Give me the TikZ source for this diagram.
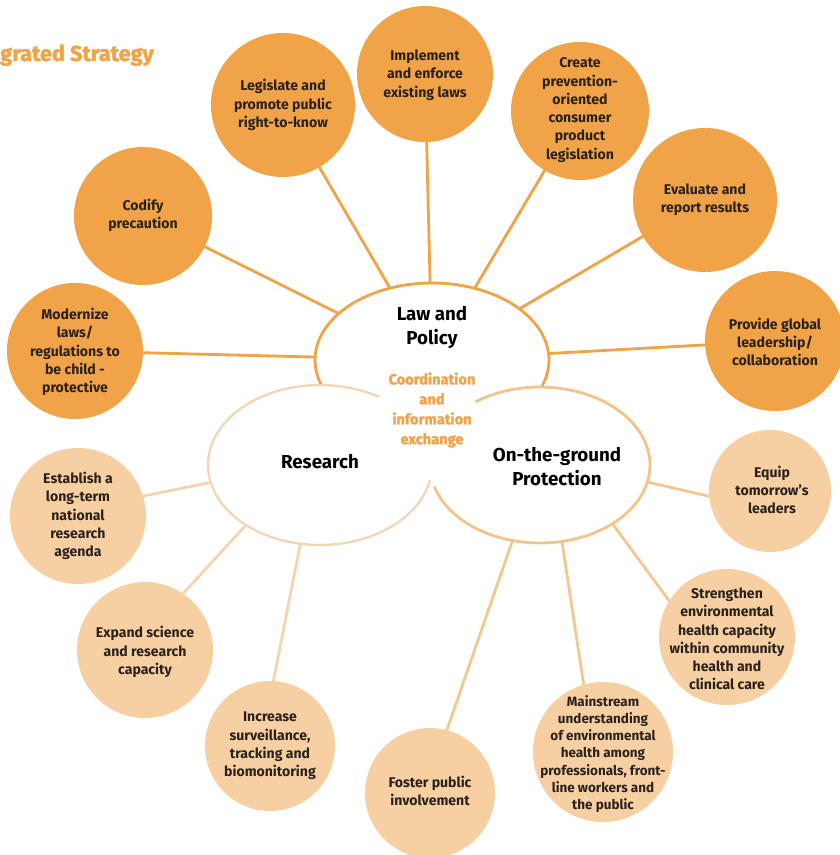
\documentclass[tikz,border=0pt]{standalone}
\usepackage{fontspec}
\setmainfont{Fira Sans}
\newfontfamily\heavyfont{Fira Sans}[BoldFeatures={FakeBold=1.6}]
\usetikzlibrary{shapes.geometric}

\definecolor{deeporange}{HTML}{F0A347}
\definecolor{paleorange}{HTML}{F6D0A2}
\definecolor{inkbrown}{HTML}{2A211B}
\definecolor{resedgecol}{HTML}{F1D6B8}
\definecolor{gndedgecol}{HTML}{F2C38C}
\definecolor{resspokecol}{HTML}{F3D5B2}
\definecolor{gndspokecol}{HTML}{F2C890}

\begin{document}
\begin{tikzpicture}[x=0.03cm, y=-0.03cm,
  hub/.style={ellipse, inner sep=0pt, outer sep=0pt, fill=white},
  bubble/.style={circle, inner sep=0pt, outer sep=0pt},
  darkbub/.style={bubble, fill=deeporange},
  palebub/.style={bubble, fill=paleorange},
  bubtext/.style={align=center, inner sep=0pt, text=inkbrown,
    font=\fontsize{12}{15.6}\selectfont\bfseries},
  hubtext/.style={align=center, inner sep=0pt, text=black,
    font=\fontsize{16}{20.5}\selectfont\bfseries},
  lawspoke/.style={draw=deeporange, line width=2.4pt},
  resspoke/.style={draw=resspokecol, line width=2.4pt},
  gndspoke/.style={draw=gndspokecol, line width=2.4pt}]
\useasboundingbox (0,0) rectangle (840,855);

% heading
\node[anchor=base west, inner sep=0pt, text=deeporange,
  font=\fontsize{18.5}{22}\heavyfont\bfseries] (heading) at (0,61) {grated Strategy};

% the three hubs: law and policy first, the two lower ones over it
\node[hub, minimum width=7.02cm, minimum height=4.62cm] (law) at (432,360) {};
\draw[deeporange, line width=2.4pt]
  plot[domain=160:380, samples=90] ({432+117*cos(\x)}, {360+77*sin(\x)});
\node[hub, minimum width=6.72cm, minimum height=4.8cm] (research) at (320,465) {};
\node[hub, minimum width=6.6cm, minimum height=4.68cm] (ground) at (540,465) {};
\draw[resedgecol, line width=2pt]
  plot[domain=11:302, samples=90] ({320+112*cos(\x)}, {465+80*sin(\x)});
\draw[gndedgecol, line width=2.4pt]
  plot[domain=234:524, samples=90] ({540+110*cos(\x)}, {465+78*sin(\x)});

% hub labels
\node[hubtext] (lawlabel) at (432,327) {Law and\\Policy};
\node[hubtext] (reslabel) at (320,462) {Research};
\node[hubtext] (gndlabel) at (557,467) {On-the-ground\\Protection};
\node[align=center, inner sep=0pt, text=deeporange,
  font=\fontsize{12.5}{17}\heavyfont\bfseries] (coord) at (432,410)
  {Coordination\\and\\information\\exchange};

% law and policy actions
\node[darkbub, minimum size=4.14cm] (codify) at (143,216) {};
\node[darkbub, minimum size=4.32cm] (legislate) at (283,105) {};
\node[darkbub, minimum size=4.08cm] (implement) at (425,74) {};
\node[darkbub, minimum size=4.14cm] (create) at (580,111) {};
\node[darkbub, minimum size=4.32cm] (evaluate) at (705,200) {};
\node[darkbub, minimum size=4.2cm] (provide) at (775,341) {};
\node[darkbub, minimum size=4.08cm] (modernize) at (75,351) {};

% research actions
\node[palebub, minimum size=4.08cm] (establish) at (78,516) {};
\node[palebub, minimum size=4.08cm] (expand) at (145,650) {};
\node[palebub, minimum size=3.9cm] (increase) at (270,746) {};

% on-the-ground actions
\node[palebub, minimum size=3.9cm] (foster) at (430,793) {};
\node[palebub, minimum size=4.2cm] (mainstream) at (603,752) {};
\node[palebub, minimum size=4.08cm] (strengthen) at (727,637) {};
\node[palebub, minimum size=3.66cm] (equip) at (770,491) {};

% spokes
\foreach \t in {codify,legislate,implement,create,evaluate,provide,modernize}
  \draw[lawspoke] (law) -- (\t);
\draw[resspoke] (research.189) -- (establish.17);
\draw[resspoke] (research.219) -- (expand.56);
\draw[resspoke] (research.256) -- (increase.87);
\draw[gndspoke] (ground.-9) -- (equip.185);
\draw[gndspoke] (ground.-39) -- (strengthen.148);
\draw[gndspoke] (ground.-74) -- (mainstream.106);
\draw[gndspoke] (ground.-110) -- (foster.75);

% action texts
\node[bubtext] (tcodify) at (143,215) {Codify\\precaution};
\node[bubtext] (tlegislate) at (283,105) {Legislate and\\promote public\\right-to-know};
\node[bubtext] (timplement) at (425,75) {Implement\\and enforce\\existing laws};
\node[bubtext] (tcreate) at (580,110) {Create\\prevention-\\oriented\\consumer\\product\\legislation};
\node[bubtext] (tevaluate) at (705,200) {Evaluate and\\report results};
\node[bubtext] (tprovide) at (775,342) {Provide global\\leadership/\\collaboration};
\node[bubtext] (tmodernize) at (75,352) {Modernize\\laws/\\regulations to\\be child -\\protective};
\node[bubtext] (testablish) at (78,516) {Establish a\\long-term\\national\\research\\agenda};
\node[bubtext] (texpand) at (145,652) {Expand science\\and research\\capacity};
\node[bubtext] (tincrease) at (270,746) {Increase\\surveillance,\\tracking and\\biomonitoring};
\node[bubtext] (tfoster) at (430,791) {Foster public\\involvement};
\node[bubtext, font=\fontsize{11.5}{14.6}\selectfont\bfseries] (tmainstream) at (603,754)
  {Mainstream\\understanding\\of environmental\\health among\\professionals, front-\\line workers and\\the public};
\node[bubtext] (tstrengthen) at (727,639) {Strengthen\\environmental\\health capacity\\within community\\health and\\clinical care};
\node[bubtext] (tequip) at (772,490) {Equip\\tomorrow’s\\leaders};
\end{tikzpicture}
\end{document}
